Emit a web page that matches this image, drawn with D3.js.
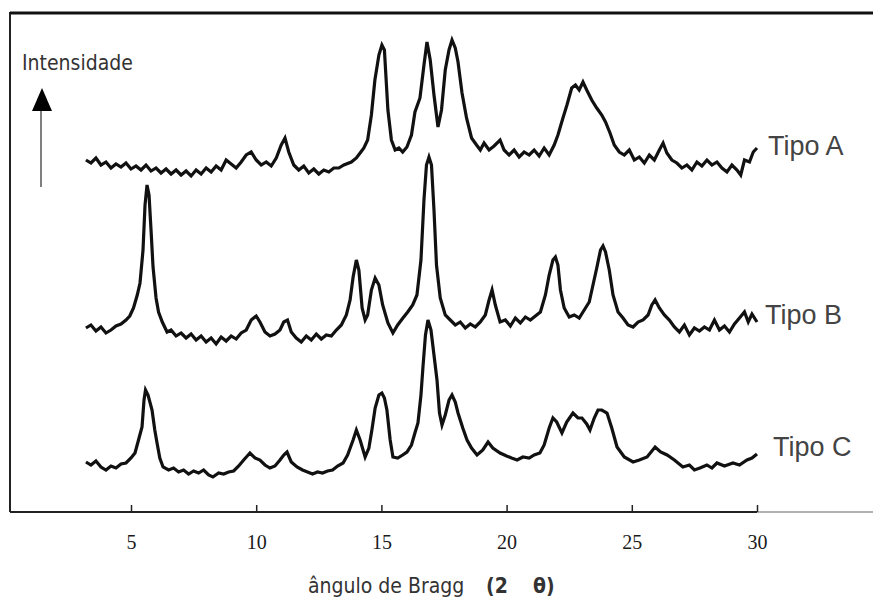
<!DOCTYPE html>
<html>
<head>
<meta charset="utf-8">
<script src="https://cdn.jsdelivr.net/npm/d3@7"></script>
<style>
  body { margin: 0; background: #fff; }
  .trace { fill: none; stroke: #111; stroke-width: 3.2; stroke-linejoin: miter; }
  .tick text { font-family: "Liberation Serif", "Times New Roman", serif; font-size: 20px; fill: #1a1a1a; }
  .lbl { font-family: "Liberation Sans", Arial, sans-serif; font-size: 27px; fill: #444; }
  .cond { font-family: "DejaVu Sans Condensed", "Liberation Sans Narrow", sans-serif; fill: #333; white-space: pre; }
</style>
</head>
<body>
<div id="chart"></div>
<script>
// 2theta (degrees) and intensity (arbitrary units, traces stacked)
const tipoA = [
  [3.2,352],[3.4,349],[3.6,354],[3.8,347],[4.0,350],[4.2,344],[4.4,348],[4.6,345],[4.8,349],[5.0,343],
  [5.2,346],[5.4,342],[5.6,347],[5.8,341],[6.0,344],[6.2,339],[6.4,343],[6.6,338],[6.8,342],[7.0,337],
  [7.2,341],[7.4,336],[7.6,342],[7.8,338],[8.0,344],[8.2,340],[8.4,346],[8.6,342],[8.8,352],[9.0,348],
  [9.2,344],[9.4,350],[9.6,357],[9.8,360],[10.0,352],[10.2,347],[10.4,350],[10.6,346],[10.8,354],[11.0,367],
  [11.15,374],[11.3,360],[11.5,347],[11.7,342],[11.9,346],[12.1,339],[12.3,343],[12.5,338],[12.7,342],[12.9,340],
  [13.1,344],[13.3,344],[13.5,347],[13.8,350],[14.0,354],[14.15,359],[14.3,364],[14.45,372],[14.6,397],[14.74,432],
  [14.9,457],[15.02,467],[15.12,462],[15.26,402],[15.4,372],[15.55,362],[15.7,364],[15.85,360],[16.02,365],[16.2,377],
  [16.34,400],[16.54,414],[16.7,447],[16.82,470],[16.95,452],[17.1,417],[17.26,385],[17.4,402],[17.55,442],[17.7,462],
  [17.82,472],[17.95,464],[18.06,450],[18.22,419],[18.4,394],[18.6,374],[18.8,367],[18.95,362],[19.1,369],[19.3,362],
  [19.5,366],[19.74,372],[19.9,362],[20.1,357],[20.3,362],[20.5,355],[20.7,360],[20.9,357],[21.1,362],[21.3,356],
  [21.5,364],[21.7,357],[21.9,367],[22.05,377],[22.25,394],[22.41,407],[22.6,424],[22.75,427],[22.9,422],[23.05,430],
  [23.2,422],[23.4,412],[23.6,404],[23.8,397],[23.95,390],[24.13,379],[24.3,367],[24.5,360],[24.7,357],[24.9,362],
  [25.1,352],[25.3,355],[25.5,349],[25.7,357],[25.9,352],[26.1,362],[26.25,369],[26.4,359],[26.6,352],[26.8,349],
  [27.0,344],[27.2,347],[27.4,342],[27.6,350],[27.8,346],[28.0,352],[28.2,347],[28.4,350],[28.6,344],[28.8,340],
  [29.0,347],[29.2,342],[29.35,337],[29.5,352],[29.7,350],[29.85,360],[30.0,364]
];

const tipoB = [
  [3.2,184],[3.4,187],[3.6,181],[3.8,185],[4.0,179],[4.2,182],[4.4,186],[4.6,188],[4.8,192],[4.95,196],
  [5.1,204],[5.25,217],[5.36,229],[5.48,262],[5.56,307],[5.64,327],[5.72,317],[5.8,282],[5.88,245],[6.0,214],
  [6.1,200],[6.25,190],[6.44,180],[6.6,182],[6.8,176],[7.0,179],[7.2,174],[7.4,178],[7.6,172],[7.8,176],
  [8.0,170],[8.2,174],[8.4,168],[8.6,175],[8.8,171],[9.0,176],[9.2,173],[9.4,179],[9.6,182],[9.8,192],
  [10.0,196],[10.15,190],[10.35,180],[10.55,176],[10.75,178],[10.95,182],[11.1,190],[11.25,192],[11.4,180],[11.6,174],
  [11.8,170],[12.0,176],[12.2,172],[12.4,178],[12.6,173],[12.8,177],[13.0,176],[13.2,182],[13.4,187],[13.6,197],
  [13.75,212],[13.87,235],[14.0,252],[14.1,242],[14.23,204],[14.35,192],[14.45,197],[14.6,222],[14.75,234],[14.9,227],
  [15.05,207],[15.26,189],[15.46,179],[15.65,187],[15.86,194],[16.05,200],[16.25,207],[16.42,217],[16.58,252],[16.7,312],
  [16.8,347],[16.9,355],[17.0,347],[17.1,302],[17.2,247],[17.35,214],[17.55,197],[17.75,192],[17.95,187],[18.15,190],
  [18.35,184],[18.55,188],[18.75,185],[18.95,190],[19.15,197],[19.3,212],[19.42,222],[19.55,207],[19.74,190],[19.95,192],
  [20.15,186],[20.35,194],[20.55,189],[20.75,195],[20.95,192],[21.15,196],[21.35,200],[21.55,217],[21.7,237],[21.85,252],
  [21.95,255],[22.05,247],[22.15,222],[22.3,204],[22.5,195],[22.7,197],[22.9,194],[23.1,202],[23.3,210],[23.45,227],
  [23.6,244],[23.75,262],[23.85,266],[23.95,260],[24.1,242],[24.25,217],[24.45,200],[24.65,194],[24.85,187],[25.05,185],
  [25.25,190],[25.45,192],[25.65,197],[25.8,207],[25.93,212],[26.1,204],[26.3,197],[26.5,192],[26.7,185],[26.9,180],
  [27.1,187],[27.3,177],[27.5,184],[27.7,181],[27.9,185],[28.1,182],[28.3,192],[28.5,182],[28.7,186],[28.9,180],
  [29.1,188],[29.3,194],[29.5,200],[29.65,190],[29.8,198],[30.0,190]
];

const tipoC = [
  [3.2,50],[3.4,47],[3.6,51],[3.8,45],[4.0,42],[4.2,46],[4.4,44],[4.6,48],[4.8,49],[5.0,54],
  [5.16,59],[5.3,72],[5.44,85],[5.52,112],[5.58,122],[5.68,117],[5.84,102],[5.95,82],[6.04,69],[6.15,54],
  [6.28,45],[6.5,42],[6.7,44],[6.9,40],[7.1,42],[7.3,38],[7.5,41],[7.7,39],[7.9,42],[8.1,37],
  [8.27,35],[8.5,39],[8.7,38],[8.9,40],[9.1,41],[9.3,46],[9.5,52],[9.75,59],[9.95,54],[10.15,52],
  [10.35,47],[10.55,44],[10.75,46],[10.95,52],[11.1,57],[11.23,60],[11.4,50],[11.63,45],[11.85,42],[12.05,40],
  [12.25,38],[12.45,40],[12.65,39],[12.85,41],[13.05,42],[13.25,46],[13.47,49],[13.65,57],[13.87,72],[14.0,82],
  [14.15,72],[14.35,55],[14.5,64],[14.62,82],[14.75,104],[14.9,117],[15.02,119],[15.12,114],[15.22,102],[15.35,72],
  [15.46,55],[15.65,54],[15.85,57],[16.02,60],[16.2,67],[16.35,80],[16.46,89],[16.58,117],[16.66,145],[16.76,177],
  [16.86,192],[16.98,182],[17.1,157],[17.22,132],[17.32,99],[17.42,87],[17.55,97],[17.7,112],[17.82,117],[17.95,110],
  [18.06,99],[18.25,84],[18.42,72],[18.6,64],[18.82,57],[19.05,62],[19.26,70],[19.45,64],[19.74,59],[20.0,56],
  [20.2,54],[20.42,52],[20.65,55],[20.9,54],[21.1,57],[21.33,59],[21.5,67],[21.7,84],[21.85,94],[22.0,90],
  [22.21,79],[22.4,90],[22.65,99],[22.85,94],[23.01,94],[23.2,88],[23.33,82],[23.5,94],[23.65,102],[23.8,102],
  [24.01,99],[24.2,84],[24.41,65],[24.7,55],[25.05,50],[25.3,52],[25.61,55],[25.93,65],[26.15,60],[26.41,57],
  [26.7,52],[27.04,45],[27.3,47],[27.5,42],[27.72,44],[28.0,47],[28.2,44],[28.4,49],[28.7,46],[29.04,49],
  [29.3,47],[29.6,52],[29.8,54],[30.0,58]
];

const seriesNames = ["Tipo A", "Tipo B", "Tipo C"];
const tickValues = [5, 10, 15, 20, 25, 30];

document.addEventListener('DOMContentLoaded', function() {
    const width = 873, height = 602;
    const left = 10, top = 12, bottom = 512;

    const svg = d3.select("#chart")
        .append("svg")
        .attr("width", width)
        .attr("height", height);

    // scales: 5 -> 131px, 30 -> 757px
    const x = d3.scaleLinear().domain([5, 30]).range([131, 757]);
    const y = d3.scaleLinear().domain([0, 500]).range([bottom, top]);

    // frame (left, top and bottom lines, right side open)
    svg.append("line").attr("x1", left).attr("y1", top).attr("x2", left).attr("y2", bottom)
        .attr("stroke", "#222").attr("stroke-width", 2);
    svg.append("line").attr("x1", left).attr("y1", 13).attr("x2", width).attr("y2", 13)
        .attr("stroke", "#111").attr("stroke-width", 3);
    svg.append("line").attr("x1", left).attr("y1", bottom).attr("x2", x(30)).attr("y2", bottom)
        .attr("stroke", "#222").attr("stroke-width", 2);
    svg.append("line").attr("x1", x(30)).attr("y1", bottom).attr("x2", width).attr("y2", bottom)
        .attr("stroke", "#999").attr("stroke-width", 1.5);

    // x axis with inward ticks
    const xAxis = svg.append("g")
        .attr("transform", "translate(0," + bottom + ")")
        .call(d3.axisBottom(x).tickValues(tickValues).tickSizeInner(-7).tickSizeOuter(0).tickPadding(23));
    xAxis.select(".domain").remove();
    xAxis.selectAll(".tick line").attr("stroke", "#222").attr("stroke-width", 1.5);

    // axis title, the "(2 θ)" part set a bit apart like the original
    const title = svg.append("text")
        .attr("class", "cond")
        .attr("y", 593)
        .style("font-size", "21px");
    title.append("tspan").attr("x", 308).text("ângulo de Bragg");
    title.append("tspan").attr("x", 486).style("font-weight", "bold").text("(2");
    title.append("tspan").attr("x", 533).style("font-weight", "bold").text("θ)");

    // intensity arrow
    svg.append("text")
        .attr("class", "cond")
        .attr("x", 22)
        .attr("y", 70)
        .style("font-size", "21px")
        .text("Intensidade");
    svg.append("line").attr("x1", 41).attr("y1", 187).attr("x2", 41).attr("y2", 108)
        .attr("stroke", "#555").attr("stroke-width", 1.5);
    svg.append("path").attr("d", "M42,88 L32,111 L52,111 Z").attr("fill", "#000");

    // the three traces
    const line = d3.line()
        .x(function(d) { return x(d[0]); })
        .y(function(d) { return y(d[1]); });

    const data = [tipoA, tipoB, tipoC];
    svg.append("g")
        .selectAll("path")
        .data(data)
        .enter()
        .append("path")
        .attr("class", "trace")
        .attr("d", line);

    // series labels next to trace ends
    const labelPos = [[768, 155], [765, 324], [773, 456]];
    svg.append("g")
        .selectAll("text")
        .data(seriesNames)
        .enter()
        .append("text")
        .attr("class", "lbl")
        .attr("x", function(d, i) { return labelPos[i][0]; })
        .attr("y", function(d, i) { return labelPos[i][1]; })
        .text(function(d) { return d; });
});
</script>
</body>
</html>
